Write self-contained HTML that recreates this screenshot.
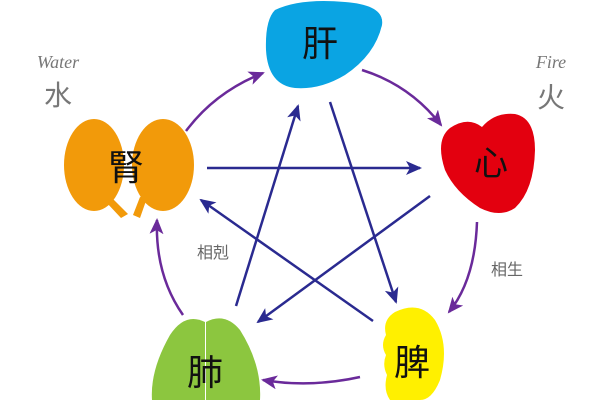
<!DOCTYPE html>
<html><head><meta charset="utf-8"><style>
html,body{margin:0;padding:0;background:#fff;}
svg{display:block;}
.s{font-family:"Liberation Sans","Noto Sans CJK SC",sans-serif;}
.it{font-family:"Liberation Serif",serif;font-style:italic;}
</style></head><body>
<svg width="600" height="400" viewBox="0 0 600 400" xmlns="http://www.w3.org/2000/svg">
<defs>
<marker id="ba" markerWidth="16" markerHeight="14" refX="14" refY="7" orient="auto" markerUnits="userSpaceOnUse"><path d="M0,0 L16,7 L0,14 L4,7 Z" fill="#2a2a90"/></marker>
<marker id="pb" markerWidth="16" markerHeight="14" refX="14" refY="7" orient="auto" markerUnits="userSpaceOnUse"><path d="M0,0 L16,7 L0,14 L4,7 Z" fill="#6a2a9a"/></marker>
</defs>
<text class="it" x="58" y="68" font-size="18" fill="#777" text-anchor="middle">Water</text>
<text class="s" x="58" y="105" font-size="28" fill="#777" text-anchor="middle">水</text>
<text class="it" x="551" y="68" font-size="18" fill="#777" text-anchor="middle">Fire</text>
<text class="s" x="551" y="107" font-size="28" fill="#777" text-anchor="middle">火</text>
<text class="s" x="213" y="258" font-size="16" fill="#666" text-anchor="middle">相剋</text>
<text class="s" x="507" y="275" font-size="16" fill="#666" text-anchor="middle">相生</text>
<g fill="none" stroke="#6a2a9a" stroke-width="2.5">
<path d="M186,131 Q215,92 263,73" marker-end="url(#pb)"/>
<path d="M362,70 Q410,85 441,125" marker-end="url(#pb)"/>
<path d="M477,222 Q475,280 449,312" marker-end="url(#pb)"/>
<path d="M360,377 Q310,388 263,380" marker-end="url(#pb)"/>
<path d="M183,315 Q155,275 157,220" marker-end="url(#pb)"/>
</g>
<g fill="none" stroke="#2a2a90" stroke-width="2.5">
<line x1="207" y1="168" x2="420" y2="168" marker-end="url(#ba)"/>
<line x1="330" y1="102" x2="396" y2="302" marker-end="url(#ba)"/>
<line x1="430" y1="196" x2="258" y2="322" marker-end="url(#ba)"/>
<line x1="373" y1="321" x2="201" y2="200" marker-end="url(#ba)"/>
<line x1="236" y1="306" x2="298" y2="106" marker-end="url(#ba)"/>
</g>
<path d="M275,10 Q300,-2 345,2 Q385,5 382,25 Q375,55 345,75 Q320,90 295,88 Q268,85 266,50 Q265,20 275,10 Z" fill="#0aa4e3"/>
<text class="s" x="320" y="56" font-size="36" fill="#111" text-anchor="middle">肝</text>
<g fill="#f29a0a">
<ellipse cx="94" cy="165" rx="30" ry="46"/>
<ellipse cx="163" cy="165" rx="31" ry="46"/>
<path d="M112,198 L128,214 L121,218 L106,202 Z"/>
<path d="M147,198 L140,218 L133,215 L140,197 Z"/>
</g>
<text class="s" x="126" y="180" font-size="36" fill="#111" text-anchor="middle">腎</text>
<path d="M482,127 Q495,112 515,114 Q535,118 535,150 Q534,190 515,208 Q500,218 480,208 Q455,192 445,170 Q435,140 450,128 Q468,116 482,127 Z" fill="#e3000f"/>
<text class="s" x="491" y="175" font-size="34" fill="#111" text-anchor="middle">心</text>
<path d="M395,312 Q420,300 435,320 Q450,345 440,380 Q432,400 420,400 L390,400 Q383,390 387,375 Q382,365 386,355 Q380,345 386,335 Q382,320 395,312 Z" fill="#fff000"/>
<text class="s" x="412" y="375" font-size="36" fill="#111" text-anchor="middle">脾</text>
<g fill="#8cc63f">
<path d="M205,322 Q185,312 170,335 Q150,370 152,400 L205,400 Z"/>
<path d="M206,322 Q225,312 240,330 Q262,365 260,400 L206,400 Z"/>
</g>
<text class="s" x="205" y="385" font-size="36" fill="#111" text-anchor="middle">肺</text>
</svg>
</body></html>
